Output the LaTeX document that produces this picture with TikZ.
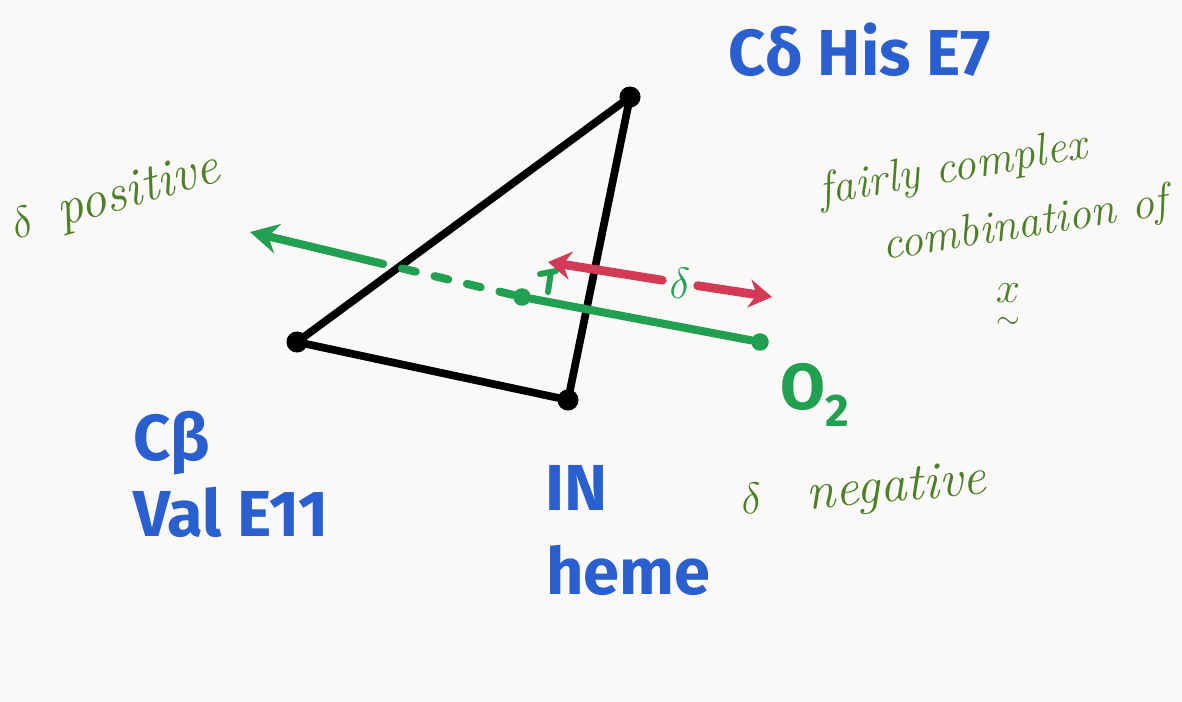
\documentclass[tikz,border=0pt]{standalone}
\usepackage{fontspec}
\usepackage{amsmath}
\usepackage{tikz}
\usetikzlibrary{arrows.meta}
\setsansfont{Fira Sans}
\definecolor{sketchblue}{HTML}{2A5FD0}
\definecolor{sketchink}{HTML}{4C7F26}
\definecolor{sketchgreen}{HTML}{20A050}
\definecolor{sketchred}{HTML}{D23A55}
\definecolor{sketchpaper}{HTML}{FBF8F8}

\begin{document}
\begin{tikzpicture}[x=0.02cm, y=-0.02cm,
  atom/.style={circle, fill=black, inner sep=0pt, minimum size=12pt},
  gdot/.style={circle, fill=sketchgreen, inner sep=0pt, minimum size=10pt},
  bond/.style={line width=4.4pt, black, line cap=round, line join=round},
  gline/.style={line width=4.6pt, sketchgreen, line cap=round},
  redarrow/.style={line width=5pt, sketchred, line cap=round},
  resname/.style={text=sketchblue, font=\sffamily\bfseries\fontsize{37}{42}\selectfont, inner sep=0pt},
  note/.style={text=sketchink, font=\itshape\fontsize{26}{30}\selectfont, inner sep=0pt}
]
  \fill[sketchpaper] (0,0) rectangle (1182,702);
  \useasboundingbox (0,0) rectangle (1182,702);

  % triangle of atoms
  \node[atom] (his) at (630,97) {};
  \node[atom] (val) at (297,342) {};
  \node[atom] (heme) at (568,400) {};
  \draw[bond] (his.center) -- (val.center) -- (heme.center) -- cycle;

  % green vector towards O2
  \node[gdot] (proj) at (522,297) {};
  \node[gdot] (oxy) at (760,342) {};
  \coordinate (mid) at (375,262);
  \coordinate (tip) at (250,232);
  \draw[gline] (proj) -- (oxy);
  \draw[gline, dash pattern=on 8pt off 11pt] (proj) -- (mid);
  \draw[gline, -{Stealth[length=16pt, width=17pt]}] (mid) -- (tip);
  \draw[sketchgreen, line width=3.4pt, line cap=round] (540,274) -- (556,271) (551,272) -- (548,292);

  % red shift arrow
  \node[text=sketchgreen, font=\fontsize{30}{34}\selectfont, inner sep=4pt] (dl) at (680,283) {$\delta$};
  \coordinate (ra) at (548,262);
  \coordinate (rb) at (772,297);
  \draw[redarrow, -{Stealth[length=13pt, width=16pt]}] (dl) -- (ra);
  \draw[redarrow, -{Stealth[length=13pt, width=16pt]}] (dl) -- (rb);

  % labels
  \node[resname] (histxt) at (860,50) {Cδ His E7};
  \node[resname, anchor=west] (cbtxt) at (133,443) {Cβ};
  \node[resname, anchor=west] (valtxt) at (133,512) {Val E11};
  \node[resname, anchor=west] (ntxt) at (545,488) {IN};
  \node[resname, anchor=west] (hemetxt) at (546,570) {heme};
  \node[text=sketchgreen, font=\sffamily\bfseries\fontsize{37}{42}\selectfont, inner sep=0pt] (o2txt) at (815,395) {O\raisebox{-10pt}{\fontsize{26}{30}\selectfont 2}};

  \node[note, rotate=16, anchor=base west] (pos) at (16,240) {\fontsize{30}{34}\selectfont$\delta$\enspace positive};
  \node[note, rotate=5, anchor=base west] (neg) at (742,515) {\fontsize{30}{34}\selectfont$\delta$\enspace\ negative};
  \node[note, rotate=10] (fc) at (953,170) {fairly complex};
  \node[note, rotate=9] (comb) at (1025,226) {combination of};
  \node[note] (xvec) at (1008,308) {$\underset{\sim}{x}$};
\end{tikzpicture}
\end{document}
